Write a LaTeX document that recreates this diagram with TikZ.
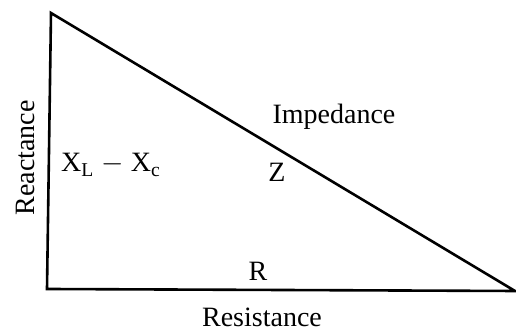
\documentclass[tikz,border=0pt]{standalone}
\usepackage{fontspec}
\setmainfont{Liberation Serif}
\usetikzlibrary{positioning}

\begin{document}
\begin{tikzpicture}[x=0.5pt, y=0.5pt, font=\fontsize{14}{16}\selectfont]
        \useasboundingbox (0,0) rectangle (516,331);
        \coordinate (top) at (51,318);
        \coordinate (corner) at (47,42);
        \coordinate (tip) at (515,40);
        \draw[line width=1.3pt, line join=miter] (top) -- (corner) -- (tip) -- cycle;
        \node[rotate=90] (reactance) at (25,173) {Reactance};
        \node (xdiff) at (111,166) {X\textsubscript{L} $-$ X\textsubscript{c}};
        \node (z) at (277,159) {Z};
        \node (impedance) at (334,214) {Impedance};
        \node (r) at (258,60) {R};
        \node (resistance) at (262,14) {Resistance};
      \end{tikzpicture}
\end{document}
